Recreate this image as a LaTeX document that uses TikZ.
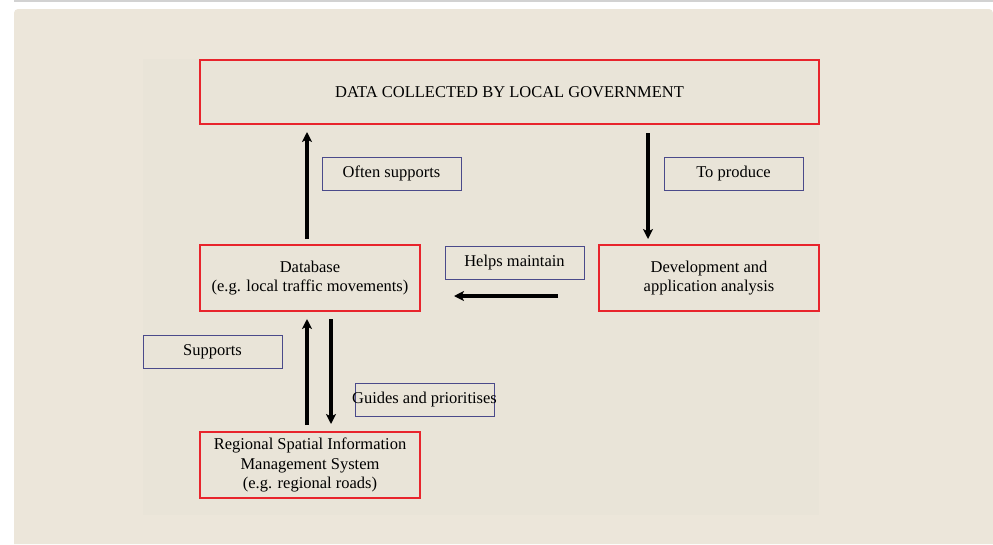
\documentclass[tikz,border=0pt]{standalone}
\usepackage{fontspec}
\setmainfont{Liberation Serif}
\usetikzlibrary{arrows.meta,calc}
\definecolor{outerbg}{HTML}{ECE6DA}
\definecolor{innerbg}{HTML}{E9E4D8}
\definecolor{boxred}{HTML}{E8242C}
\definecolor{boxblue}{HTML}{4A4A8A}
\definecolor{topline}{HTML}{D2D2D2}
\tikzset{
  redbox/.style={draw=boxred, line width=2pt, inner sep=0pt, align=center,
    font=\fontsize{16.5}{19.5}\selectfont},
  labelbox/.style={draw=boxblue, line width=1pt, inner sep=0pt, align=center,
    minimum width=139pt, minimum height=33pt, font=\fontsize{16.5}{19}\selectfont},
  arr/.style={line width=3.2pt, -{Stealth[length=10pt,width=10pt,inset=2.5pt]}}
}
\begin{document}
\begin{tikzpicture}[x=1pt,y={(0pt,-1pt)}]
\useasboundingbox (0,0) rectangle (993,544);
\fill[white] (0,0) rectangle (993,544);
\draw[topline, line width=2pt] (14,1) -- (993,1);
\fill[outerbg] {[rounded corners=4pt] (14,544) -- (14,9) -- (993,9)} -- (993,544) -- cycle;
\fill[innerbg] (143,59) rectangle (819,515);

% main boxes
\node[redbox, minimum width=619pt, minimum height=64pt] (top) at (509.5,92) {DATA COLLECTED BY LOCAL GOVERNMENT};
\node[redbox, minimum width=220pt, minimum height=66pt] (db) at (310,278) {Database\\(e.g. local traffic movements)};
\node[redbox, minimum width=220pt, minimum height=66pt] (dev) at (709,278) {Development and\\application analysis};
\node[redbox, minimum width=220pt, minimum height=66pt] (reg) at (310,465) {Regional Spatial Information\\Management System\\(e.g. regional roads)};

% label boxes
\node[labelbox] (often) at (391.5,173.5) {Often supports};
\node[labelbox] (prod) at (733.5,173.5) {To produce};
\node[labelbox] (helps) at (514.5,262.5) {Helps maintain};
\node[labelbox] (sup) at (212.5,352) {Supports};
\node[labelbox] (guide) at (424.5,400) {\makebox[139pt][c]{Guides and prioritises}};

% arrows
\draw[arr] ([xshift=-3pt,yshift=5pt]db.north) -- ([xshift=-3pt,yshift=-7pt]db.north |- top.south);
\draw[arr] ([yshift=-8pt]dev.north |- top.south) ++(-61pt,0) coordinate (a2s) -- ([xshift=-61pt,yshift=5pt]dev.north);
\draw[arr] ([xshift=-40pt,yshift=-18pt]dev.west) -- ([xshift=33pt,yshift=-18pt]db.east);
\draw[arr] ([xshift=-3pt,yshift=6pt]reg.north) -- ([xshift=-3pt,yshift=-7pt]db.south);
\draw[arr] ([xshift=21pt,yshift=-7pt]db.south) -- ([xshift=21pt,yshift=7pt]reg.north);
\end{tikzpicture}
\end{document}
